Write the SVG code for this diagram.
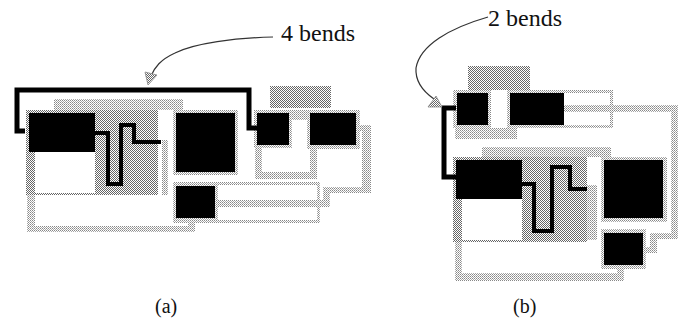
<svg xmlns="http://www.w3.org/2000/svg" width="682" height="320" viewBox="0 0 682 320">
<defs>
<pattern id="stip" width="2" height="2" patternUnits="userSpaceOnUse"><rect width="2" height="2" fill="#fff"/><rect width="1" height="1" fill="#666"/><rect x="1" y="1" width="1" height="1" fill="#666"/></pattern>
<pattern id="light" width="2" height="2" patternUnits="userSpaceOnUse"><rect width="2" height="2" fill="#fff"/><rect width="1" height="1" fill="#888"/><rect x="1" y="1" width="1" height="1" fill="#aaa"/></pattern>
</defs>
<style>
rect{shape-rendering:crispEdges}
.s{fill:url(#stip)}
.l{fill:url(#light)}
.w{fill:#fff}
.k{fill:#000}
.wire{fill:none;stroke:#000;stroke-width:4;stroke-linejoin:miter}
.thick{stroke-width:5}
.curve{fill:none;stroke:#333;stroke-width:1.2}
.head{fill:url(#stip);stroke:#888;stroke-width:.8}
text{font-family:"Liberation Serif","Times New Roman",serif;fill:#111}
.big{font-size:24px}
.cap{font-size:20px}
</style>
<g id="graph-a-regions">
<rect class="l" x="27" y="195" width="168" height="37"/><rect class="w" x="35" y="195" width="153" height="31"/><rect class="w" x="188" y="195" width="7" height="27"/>
<rect class="l" x="54" y="99" width="129" height="11"/>
<rect class="s" x="270" y="86" width="61" height="22"/>
<rect class="l" x="162" y="140" width="6" height="55"/>
</g>
<g id="node-a1"><rect class="s" x="26" y="110" width="132" height="85"/><rect class="w" x="35" y="152" width="60" height="41"/><rect class="k" x="29" y="113" width="66" height="39"/></g>
<g id="node-a2"><rect class="l" x="173" y="110" width="65" height="65"/><rect class="k" x="176" y="113" width="59" height="59"/></g>
<g id="node-a3"><rect class="l" x="255" y="110" width="62" height="69"/><rect class="w" x="262" y="120" width="48" height="52"/><rect class="l" x="254" y="110" width="38" height="38"/><rect class="k" x="257" y="113" width="32" height="32"/></g>
<g id="node-a4"><rect class="l" x="362" y="125" width="9" height="68"/><rect class="l" x="323" y="187" width="48" height="6"/><rect class="l" x="355" y="125" width="16" height="6"/><rect class="l" x="307" y="110" width="53" height="39"/><rect class="k" x="310" y="113" width="46" height="32"/></g>
<g id="node-a5"><rect class="l" x="173" y="182" width="147" height="41"/><rect class="w" x="176" y="185" width="141" height="35"/><rect class="l" x="323" y="187" width="7" height="20"/><rect class="l" x="212" y="200" width="118" height="7"/><rect class="l" x="173" y="183" width="45" height="38"/><rect class="k" x="176" y="186" width="39" height="32"/></g>

<g id="graph-b-regions">
<rect class="l" x="455" y="242" width="169" height="39"/><rect class="w" x="462" y="242" width="155" height="31"/><rect class="w" x="617" y="242" width="7" height="26"/>
<rect class="l" x="482" y="147" width="129" height="10"/>
<rect class="s" x="468" y="66" width="62" height="24"/>
<rect class="l" x="587" y="185" width="10" height="55"/>
</g>
<g id="node-b1"><rect class="s" x="453" y="157" width="134" height="85"/><rect class="w" x="462" y="199" width="60" height="41"/><rect class="k" x="456" y="160" width="66" height="39"/></g>
<g id="node-b2"><rect class="l" x="601" y="157" width="66" height="65"/><rect class="k" x="604" y="160" width="59" height="58"/></g>
<g id="node-b3"><rect class="l" x="455" y="128" width="62" height="11"/><rect class="l" x="453" y="90" width="38" height="38"/><rect class="k" x="457" y="93" width="31" height="32"/></g>
<g id="node-b4"><rect class="l" x="507" y="90" width="106" height="38"/><rect class="w" x="511" y="93" width="99" height="32"/><rect class="l" x="562" y="105" width="116" height="7"/><rect class="l" x="671" y="105" width="7" height="134"/><rect class="l" x="650" y="233" width="28" height="6"/><rect class="k" x="510" y="93" width="54" height="32"/></g>
<g id="node-b5"><rect class="l" x="650" y="233" width="7" height="20"/><rect class="l" x="640" y="247" width="17" height="6"/><rect class="l" x="601" y="229" width="45" height="40"/><rect class="k" x="604" y="233" width="39" height="32"/></g>

<g id="connectors">
<path class="wire thick" d="M25 131H17V90H249V128H257"/>
<path class="wire" d="M95 133H108V184H121V125H134V142H161"/>
<path class="wire thick" d="M456 108H444V177H456"/>
<path class="wire" d="M522 184H534V231H552V167H570V189H587"/>
<path class="curve" d="M273 37C235 38 195 43 175 53C160 60 155 67 151 76"/>
<polygon class="head" points="148,85 145,72 157,75"/>
<path class="curve" d="M488 17C450 28 420 45 416 68C415 82 424 92 434 99"/>
<polygon class="head" points="428,107 442,107 436,96"/>
</g>
<g id="labels">
<text class="big" x="281" y="41">4 bends</text>
<text class="big" x="488" y="26">2 bends</text>
<text class="cap" x="155" y="313">(a)</text>
<text class="cap" x="513" y="313">(b)</text>
</g>
</svg>
